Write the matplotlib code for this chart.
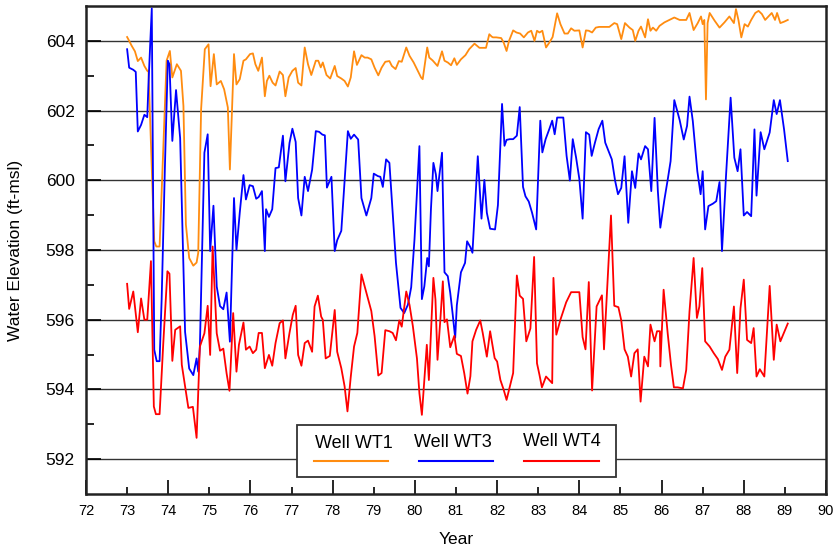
import matplotlib
matplotlib.use("Agg")
import matplotlib.pyplot as plt
from matplotlib.ticker import MultipleLocator, FixedLocator, FormatStrFormatter
from matplotlib.patches import Rectangle

plt.rcParams['font.family'] = ['Liberation Sans', 'DejaVu Sans']

# (year, water elevation)
wt1 = [
    (73.00, 604.11), (73.05, 604.00), (73.11, 603.86), (73.19, 603.70), (73.26, 603.42), (73.34, 603.52),
    (73.42, 603.28), (73.49, 603.14), (73.52, 603.14), (73.66, 598.25), (73.71, 598.10), (73.79, 598.10),
    (73.96, 603.43), (74.04, 603.71), (74.10, 602.95), (74.21, 603.33), (74.31, 603.14), (74.37, 602.13),
    (74.43, 598.73), (74.51, 597.77), (74.61, 597.55), (74.69, 597.64), (74.73, 597.92), (74.80, 602.04),
    (74.89, 603.76), (74.98, 603.90), (75.03, 602.70), (75.11, 603.62), (75.18, 602.75), (75.28, 602.85),
    (75.36, 602.61), (75.45, 602.09), (75.50, 600.31), (75.60, 603.62), (75.66, 602.75), (75.74, 602.90),
    (75.83, 603.43), (75.89, 603.47), (75.99, 603.62), (76.06, 603.64), (76.12, 603.33), (76.19, 603.14),
    (76.28, 603.52), (76.35, 602.41), (76.40, 602.85), (76.46, 603.00), (76.54, 602.80), (76.61, 602.72),
    (76.71, 603.12), (76.79, 603.02), (76.85, 602.41), (76.93, 602.95), (77.02, 603.14), (77.10, 603.22),
    (77.16, 602.80), (77.24, 602.72), (77.32, 603.81), (77.40, 603.33), (77.48, 603.02), (77.59, 603.43),
    (77.65, 603.43), (77.71, 603.24), (77.76, 603.38), (77.85, 603.02), (77.94, 602.92), (78.05, 603.28),
    (78.11, 602.99), (78.21, 602.92), (78.29, 602.85), (78.37, 602.69), (78.44, 602.95), (78.52, 603.70),
    (78.59, 603.31), (78.70, 603.59), (78.78, 603.52), (78.85, 603.52), (78.94, 603.47), (79.02, 603.23),
    (79.11, 603.01), (79.19, 603.23), (79.28, 603.40), (79.38, 603.42), (79.44, 603.28), (79.53, 603.19),
    (79.61, 603.42), (79.68, 603.40), (79.79, 603.81), (79.87, 603.57), (79.97, 603.38), (80.07, 603.14),
    (80.15, 602.95), (80.19, 602.90), (80.30, 603.81), (80.35, 603.52), (80.43, 603.44), (80.55, 603.28),
    (80.66, 603.70), (80.72, 603.43), (80.80, 603.38), (80.88, 603.30), (80.96, 603.50), (81.02, 603.31),
    (81.12, 603.47), (81.23, 603.59), (81.32, 603.76), (81.45, 603.92), (81.57, 603.80), (81.73, 603.80),
    (81.81, 604.19), (81.87, 604.12), (81.90, 604.10), (81.98, 604.10), (82.10, 604.08), (82.16, 603.95),
    (82.23, 603.71), (82.29, 604.00), (82.39, 604.30), (82.47, 604.24), (82.56, 604.21), (82.65, 604.10),
    (82.75, 604.24), (82.83, 604.29), (82.91, 604.00), (82.97, 604.29), (83.03, 604.24), (83.10, 604.29),
    (83.19, 603.81), (83.27, 603.95), (83.35, 604.11), (83.46, 604.79), (83.54, 604.48), (83.64, 604.21),
    (83.72, 604.21), (83.80, 604.36), (83.88, 604.29), (84.00, 604.30), (84.08, 603.81), (84.16, 604.30),
    (84.23, 604.29), (84.31, 604.24), (84.40, 604.38), (84.48, 604.40), (84.60, 604.40), (84.73, 604.40),
    (84.85, 604.51), (84.92, 604.48), (85.02, 604.05), (85.11, 604.51), (85.22, 604.38), (85.30, 604.31),
    (85.36, 604.00), (85.44, 604.29), (85.50, 604.41), (85.60, 604.10), (85.67, 604.62), (85.73, 604.29),
    (85.79, 604.38), (85.87, 604.29), (85.95, 604.43), (86.07, 604.53), (86.19, 604.60), (86.31, 604.67),
    (86.44, 604.60), (86.60, 604.60), (86.68, 604.80), (86.78, 604.31), (86.88, 604.51), (86.96, 604.70),
    (87.00, 604.48), (87.04, 604.60), (87.08, 602.32), (87.12, 604.51), (87.17, 604.80), (87.29, 604.58),
    (87.41, 604.38), (87.53, 604.53), (87.65, 604.70), (87.76, 604.51), (87.81, 604.91), (87.87, 604.60),
    (87.94, 604.10), (88.02, 604.48), (88.10, 604.41), (88.18, 604.60), (88.28, 604.80), (88.36, 604.86),
    (88.44, 604.77), (88.52, 604.60), (88.60, 604.70), (88.68, 604.80), (88.76, 604.60), (88.81, 604.80),
    (88.89, 604.51), (88.98, 604.55), (89.07, 604.60),
]

wt3 = [
    (73.00, 603.76), (73.05, 603.23), (73.15, 603.17), (73.21, 603.11), (73.26, 601.40), (73.34, 601.59),
    (73.42, 601.88), (73.49, 601.81), (73.52, 602.78), (73.60, 604.93), (73.66, 595.14), (73.72, 594.81),
    (73.79, 594.81), (73.84, 596.58), (73.92, 600.41), (73.99, 603.43), (74.03, 603.33), (74.10, 601.13),
    (74.19, 602.59), (74.29, 601.21), (74.41, 595.65), (74.51, 594.60), (74.61, 594.41), (74.69, 594.89),
    (74.73, 594.51), (74.77, 595.23), (74.88, 600.79), (74.96, 601.32), (75.02, 597.97), (75.10, 599.27),
    (75.18, 596.95), (75.26, 596.39), (75.34, 596.30), (75.42, 596.78), (75.50, 595.37), (75.60, 599.49),
    (75.66, 598.00), (75.74, 599.07), (75.83, 600.15), (75.89, 599.45), (75.98, 599.86), (76.06, 599.83),
    (76.14, 599.47), (76.20, 599.52), (76.28, 599.69), (76.35, 597.97), (76.38, 599.17), (76.45, 598.95),
    (76.53, 599.17), (76.61, 600.35), (76.69, 600.37), (76.79, 601.28), (76.85, 599.97), (76.95, 601.07),
    (77.02, 601.48), (77.10, 601.10), (77.16, 599.49), (77.24, 598.99), (77.32, 600.10), (77.40, 599.69),
    (77.50, 600.30), (77.59, 601.41), (77.67, 601.39), (77.75, 601.31), (77.81, 601.29), (77.86, 599.79),
    (77.97, 600.10), (78.05, 597.97), (78.11, 598.28), (78.21, 598.55), (78.29, 600.00), (78.37, 601.41),
    (78.44, 601.19), (78.52, 601.31), (78.62, 601.17), (78.70, 599.49), (78.82, 598.99), (78.94, 599.49),
    (79.00, 600.19), (79.10, 600.12), (79.16, 600.10), (79.22, 599.81), (79.30, 600.60), (79.38, 600.50),
    (79.46, 599.07), (79.54, 597.63), (79.65, 596.34), (79.74, 596.19), (79.83, 596.43), (79.91, 596.93),
    (79.99, 598.30), (80.05, 599.64), (80.11, 600.98), (80.17, 596.59), (80.23, 596.96), (80.30, 597.77),
    (80.34, 597.53), (80.39, 599.16), (80.45, 600.50), (80.51, 600.17), (80.55, 599.69), (80.66, 600.79),
    (80.72, 597.36), (80.80, 597.25), (80.86, 596.77), (80.92, 596.15), (80.98, 595.48), (81.02, 596.41),
    (81.12, 597.36), (81.22, 597.63), (81.27, 598.25), (81.35, 598.08), (81.40, 597.92), (81.53, 600.69),
    (81.62, 598.90), (81.69, 600.01), (81.75, 599.07), (81.83, 598.61), (81.95, 598.59), (82.02, 599.29),
    (82.12, 602.19), (82.18, 600.99), (82.23, 601.16), (82.31, 601.18), (82.39, 601.18), (82.48, 601.28),
    (82.55, 602.10), (82.63, 599.81), (82.69, 599.54), (82.77, 599.39), (82.85, 599.07), (82.95, 598.59),
    (83.05, 601.71), (83.10, 600.80), (83.18, 601.18), (83.27, 601.47), (83.34, 601.71), (83.40, 601.32),
    (83.46, 601.80), (83.54, 601.80), (83.61, 601.80), (83.69, 600.70), (83.77, 599.99), (83.84, 601.18),
    (83.92, 600.66), (84.00, 600.04), (84.08, 598.90), (84.16, 601.38), (84.24, 601.31), (84.30, 600.70),
    (84.38, 601.08), (84.47, 601.47), (84.56, 601.71), (84.63, 601.08), (84.71, 600.84), (84.79, 600.60),
    (84.87, 599.99), (84.94, 599.60), (85.02, 599.78), (85.10, 600.69), (85.19, 598.78), (85.28, 600.26),
    (85.36, 599.78), (85.44, 600.77), (85.50, 600.60), (85.60, 600.98), (85.67, 600.89), (85.75, 599.69),
    (85.83, 601.79), (85.91, 599.69), (85.97, 598.64), (86.07, 599.45), (86.15, 600.02), (86.22, 600.55),
    (86.31, 602.30), (86.44, 601.73), (86.54, 601.17), (86.62, 601.56), (86.68, 602.40), (86.76, 601.70),
    (86.87, 600.26), (86.95, 599.60), (87.00, 600.26), (87.06, 598.59), (87.14, 599.26), (87.25, 599.33),
    (87.33, 599.40), (87.41, 599.95), (87.47, 597.97), (87.57, 600.17), (87.68, 602.37), (87.77, 600.65),
    (87.85, 600.26), (87.92, 600.89), (88.00, 598.99), (88.08, 599.09), (88.18, 598.97), (88.26, 601.46),
    (88.31, 599.56), (88.41, 601.38), (88.50, 600.89), (88.63, 601.37), (88.73, 602.30), (88.80, 601.90),
    (88.88, 602.30), (88.98, 601.46), (89.07, 600.55),
]

wt4 = [
    (73.00, 597.03), (73.05, 596.31), (73.15, 596.81), (73.26, 595.64), (73.34, 596.61), (73.42, 596.00),
    (73.49, 596.00), (73.58, 597.68), (73.65, 593.51), (73.70, 593.29), (73.79, 593.29), (73.88, 595.33),
    (73.98, 597.39), (74.03, 597.32), (74.10, 594.82), (74.17, 595.71), (74.29, 595.81), (74.33, 594.71),
    (74.41, 594.09), (74.49, 593.47), (74.60, 593.50), (74.69, 592.61), (74.77, 595.23), (74.88, 595.61),
    (74.96, 596.40), (75.02, 594.99), (75.08, 598.10), (75.18, 595.61), (75.26, 595.11), (75.34, 595.17),
    (75.42, 594.46), (75.49, 593.96), (75.58, 596.19), (75.66, 594.51), (75.72, 595.28), (75.83, 595.92),
    (75.89, 595.14), (75.98, 595.23), (76.06, 595.04), (76.14, 595.14), (76.20, 595.62), (76.28, 595.62),
    (76.35, 594.61), (76.45, 594.99), (76.53, 594.68), (76.61, 595.33), (76.71, 595.90), (76.79, 595.98),
    (76.85, 594.89), (76.95, 595.62), (77.03, 596.14), (77.10, 596.40), (77.16, 594.99), (77.24, 594.68),
    (77.32, 595.33), (77.40, 595.40), (77.50, 595.08), (77.56, 596.38), (77.64, 596.69), (77.72, 596.09),
    (77.76, 596.00), (77.83, 594.89), (77.93, 594.96), (78.05, 596.28), (78.11, 595.08), (78.21, 594.61),
    (78.29, 594.09), (78.36, 593.37), (78.44, 594.36), (78.52, 595.23), (78.60, 595.62), (78.70, 597.30),
    (78.82, 596.77), (78.94, 596.25), (79.02, 595.53), (79.11, 594.40), (79.19, 594.47), (79.28, 595.70),
    (79.38, 595.67), (79.46, 595.62), (79.54, 595.41), (79.62, 595.98), (79.68, 595.80), (79.79, 596.81),
    (79.87, 596.42), (79.95, 595.82), (80.05, 594.89), (80.11, 593.89), (80.17, 593.27), (80.23, 594.26),
    (80.29, 595.28), (80.34, 594.27), (80.39, 595.62), (80.45, 597.20), (80.50, 596.58), (80.55, 594.85),
    (80.62, 596.01), (80.68, 597.10), (80.72, 595.93), (80.78, 596.01), (80.86, 595.21), (80.96, 595.54),
    (81.02, 595.02), (81.12, 594.96), (81.20, 594.47), (81.28, 593.88), (81.35, 594.38), (81.40, 595.38),
    (81.49, 595.71), (81.59, 595.98), (81.65, 595.62), (81.75, 594.94), (81.83, 595.67), (81.94, 594.90),
    (82.00, 594.80), (82.08, 594.27), (82.16, 593.99), (82.23, 593.70), (82.31, 594.08), (82.39, 594.47),
    (82.48, 597.27), (82.55, 596.69), (82.63, 596.60), (82.71, 595.38), (82.81, 595.75), (82.90, 597.80),
    (82.97, 594.75), (83.03, 594.42), (83.09, 594.06), (83.19, 594.37), (83.34, 594.18), (83.37, 597.20),
    (83.44, 595.57), (83.54, 596.00), (83.68, 596.50), (83.80, 596.79), (83.92, 596.79), (84.00, 596.79),
    (84.08, 595.50), (84.15, 595.15), (84.23, 597.08), (84.31, 593.97), (84.42, 596.38), (84.55, 596.70),
    (84.60, 595.15), (84.69, 597.20), (84.77, 598.99), (84.85, 596.40), (84.95, 596.36), (85.02, 595.98),
    (85.10, 595.15), (85.18, 594.94), (85.26, 594.37), (85.34, 595.04), (85.42, 595.15), (85.49, 593.65),
    (85.58, 594.94), (85.67, 594.66), (85.73, 595.86), (85.83, 595.38), (85.89, 595.67), (85.96, 595.67),
    (85.97, 594.66), (86.05, 596.86), (86.15, 595.60), (86.23, 594.70), (86.30, 594.06), (86.39, 594.06),
    (86.52, 594.03), (86.60, 594.56), (86.68, 596.24), (86.78, 597.77), (86.86, 596.05), (86.92, 596.38),
    (86.99, 597.48), (87.06, 595.38), (87.17, 595.23), (87.27, 595.04), (87.37, 594.87), (87.47, 594.56),
    (87.55, 594.94), (87.65, 595.14), (87.76, 596.38), (87.84, 594.47), (87.92, 596.33), (88.00, 597.15),
    (88.08, 595.42), (88.18, 595.33), (88.24, 595.76), (88.31, 594.37), (88.39, 594.58), (88.50, 594.37),
    (88.63, 596.97), (88.73, 594.85), (88.80, 595.86), (88.89, 595.38), (89.07, 595.89),
]

series = [
    ('Well WT1', wt1, '#ff8c10'),
    ('Well WT3', wt3, '#0000ff'),
    ('Well WT4', wt4, '#ff0000'),
]

fig = plt.figure(figsize=(8.33, 5.5), dpi=100)
ax = fig.add_axes([86 / 833, 1 - 494 / 550, 740 / 833, 488 / 550])

for name, pts, col in series:
    xs, ys = zip(*pts)
    ax.plot(xs, ys, color=col, lw=1.3, zorder=3)

ax.set_xlim(72, 90)
ax.set_ylim(591, 605)

ax.xaxis.set_major_locator(MultipleLocator(2))
ax.xaxis.set_minor_locator(FixedLocator(range(73, 90, 2)))
ax.xaxis.set_major_formatter(FormatStrFormatter('%d'))
ax.xaxis.set_minor_formatter(FormatStrFormatter('%d'))
ax.yaxis.set_major_locator(MultipleLocator(2))
ax.yaxis.set_minor_locator(FixedLocator(range(593, 605, 2)))

ax.tick_params(axis='x', which='both', direction='in', labelsize=10.5, pad=7, width=1.2)
ax.tick_params(axis='x', which='major', length=10)
ax.tick_params(axis='x', which='minor', length=5)
ax.tick_params(axis='y', which='both', direction='in', labelsize=12.5, pad=8, width=1.2)
ax.tick_params(axis='y', which='major', length=11)
ax.tick_params(axis='y', which='minor', length=6)

ax.grid(axis='y', which='major', color='#333333', lw=1.0, zorder=1)
ax.set_axisbelow(True)
for sp in ax.spines.values():
    sp.set_linewidth(1.8)
    sp.set_color('#222222')

ax.set_xlabel('Year', fontsize=12.5)
ax.xaxis.set_label_coords(0.5, -0.078)
ax.set_ylabel('Water Elevation (ft-msl)', fontsize=12.5)
ax.yaxis.set_label_coords(-0.085, 0.5)

# legend: label above the line sample, like the original
ax.add_patch(Rectangle((0.2847, 0.0348), 0.4315, 0.1066, transform=ax.transAxes,
                       facecolor='white', edgecolor='#333333', lw=1.3, zorder=5))
leg_text_x = [0.3618, 0.4964, 0.6432]
leg_text_y = [0.0936, 0.0957, 0.0990]
leg_line_x = [(0.3081, 0.4081), (0.4500, 0.5500), (0.5919, 0.6932)]
for (name, pts, col), tx, ty, (lx0, lx1) in zip(series, leg_text_x, leg_text_y, leg_line_x):
    ax.text(tx, ty, name, transform=ax.transAxes, ha='center', va='baseline',
            fontsize=13, zorder=6)
    ax.plot([lx0, lx1], [0.0676, 0.0676], transform=ax.transAxes, color=col,
            lw=1.5, zorder=6, clip_on=False)

fig.savefig('out.png', dpi=100)
